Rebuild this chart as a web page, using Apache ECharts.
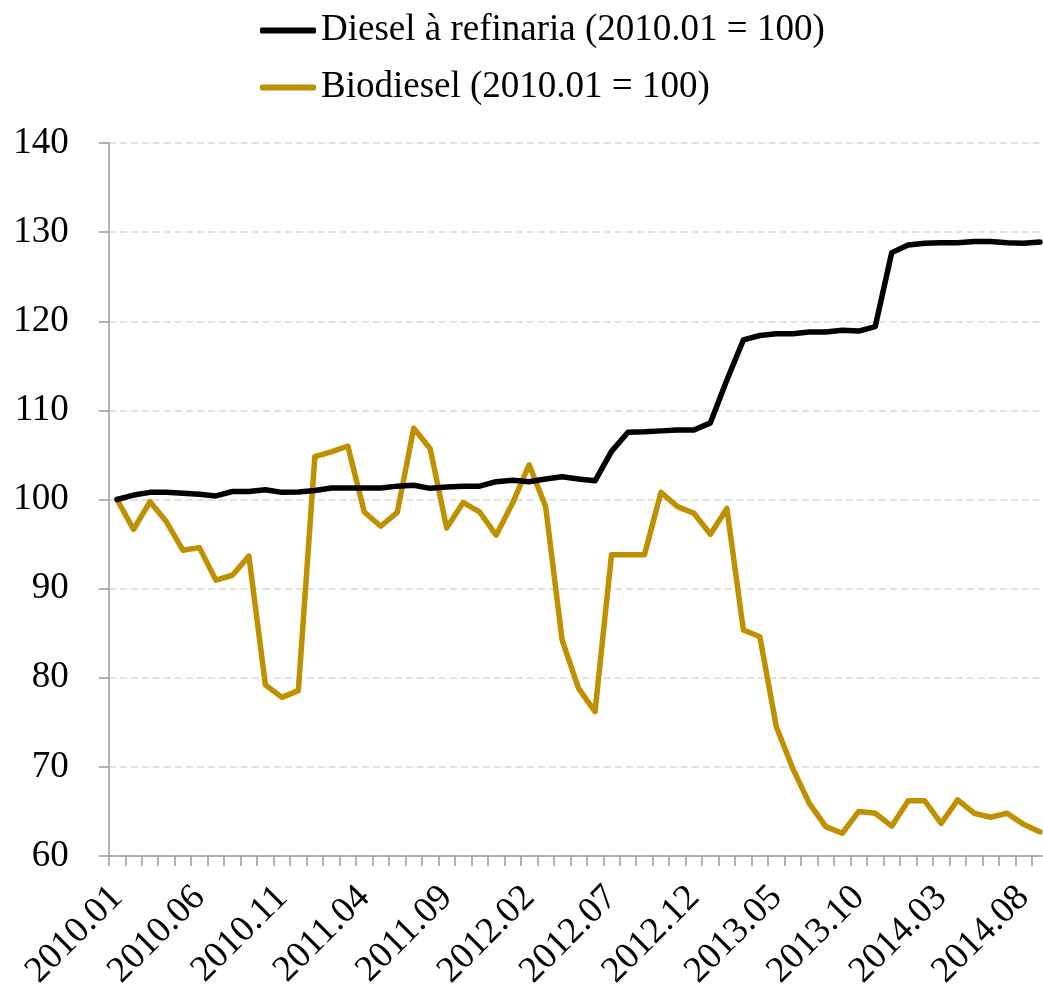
<!DOCTYPE html>
<html>
<head>
<meta charset="utf-8">
<script src="https://cdn.jsdelivr.net/npm/echarts@6/dist/echarts.min.js"></script>
<style>
  html, body { margin: 0; padding: 0; background: #fff; overflow: hidden; }
  /* canvas runs slightly past the right edge so the last month's band is cut by the page edge */
  #chart { width: 1060px; height: 989px; }
</style>
</head>
<body>
<div id="chart"></div>
<script>
// Monthly observations, 2010.01 – 2014.09
const months = [
  '2010.01','2010.02','2010.03','2010.04','2010.05','2010.06','2010.07','2010.08','2010.09','2010.10','2010.11','2010.12',
  '2011.01','2011.02','2011.03','2011.04','2011.05','2011.06','2011.07','2011.08','2011.09','2011.10','2011.11','2011.12',
  '2012.01','2012.02','2012.03','2012.04','2012.05','2012.06','2012.07','2012.08','2012.09','2012.10','2012.11','2012.12',
  '2013.01','2013.02','2013.03','2013.04','2013.05','2013.06','2013.07','2013.08','2013.09','2013.10','2013.11','2013.12',
  '2014.01','2014.02','2014.03','2014.04','2014.05','2014.06','2014.07','2014.08','2014.09'
];

// Index, 2010.01 = 100
const dieselRefinaria = [
  100.0, 100.5, 100.8, 100.8, 100.7, 100.6, 100.4, 100.9, 100.9, 101.1, 100.8, 100.85,
  101.0, 101.3, 101.3, 101.3, 101.3, 101.5, 101.6, 101.25, 101.4, 101.5, 101.5, 102.0,
  102.15, 102.0, 102.3, 102.55, 102.3, 102.1, 105.4, 107.55, 107.6, 107.7, 107.8, 107.8,
  108.6, 113.4, 117.9, 118.4, 118.6, 118.6, 118.8, 118.8, 119.0, 118.9, 119.4, 127.7,
  128.55, 128.75, 128.8, 128.8, 128.95, 128.95, 128.8, 128.75, 128.9
];

const biodiesel = [
  100.0, 96.65, 99.75, 97.5, 94.3, 94.6, 90.95, 91.5, 93.65, 79.2, 77.8, 78.55,
  104.8, 105.35, 106.0, 98.6, 97.0, 98.55, 108.0, 105.7, 96.8, 99.65, 98.6, 96.0,
  99.6, 103.9, 99.25, 84.25, 78.8, 76.2, 93.8, 93.8, 93.8, 100.8, 99.2, 98.45,
  96.1, 99.0, 85.35, 84.6, 74.5, 69.8, 65.9, 63.3, 62.55, 65.0, 64.8, 63.35,
  66.2, 66.2, 63.65, 66.3, 64.8, 64.35, 64.8, 63.55, 62.7
];

const seriesNames = ['Diesel à refinaria (2010.01 = 100)', 'Biodiesel (2010.01 = 100)'];
const yTicks = { min: 60, max: 140, step: 10 };

const serif = '"Liberation Serif", "DejaVu Serif", serif';
const axisGray = '#9a9a9a';

const chart = echarts.init(document.getElementById('chart'), null, { renderer: 'canvas' });
chart.setOption({
  animation: false,
  backgroundColor: '#ffffff',
  textStyle: { fontFamily: serif, color: '#000' },
  legend: {
    orient: 'vertical',
    left: 255,
    top: 7,
    itemWidth: 56,
    itemHeight: 6,
    itemGap: 20,
    icon: 'roundRect',
    textStyle: { fontFamily: serif, fontSize: 37, color: '#000' },
    data: seriesNames
  },
  grid: {
    left: 108.8, top: 143, width: 939.5, height: 713,
    containLabel: false,
    outerBoundsMode: 'none'
  },
  xAxis: {
    type: 'category',
    data: months,
    boundaryGap: true,
    axisLine: { show: true, lineStyle: { color: axisGray, width: 1.5 } },
    axisTick: { show: true, interval: 0, length: 10, inside: false, lineStyle: { color: axisGray, width: 1.5 } },
    axisLabel: {
      interval: 4,
      rotate: 45,
      margin: 36,
      fontFamily: serif,
      fontSize: 37,
      color: '#000'
    },
    splitLine: { show: false }
  },
  yAxis: {
    type: 'value',
    min: yTicks.min,
    max: yTicks.max,
    interval: yTicks.step,
    axisLine: { show: true, lineStyle: { color: axisGray, width: 1.5 } },
    axisTick: { show: true, length: 10, inside: false, lineStyle: { color: axisGray, width: 1.5 } },
    axisLabel: { margin: 40, fontFamily: serif, fontSize: 37, color: '#000' },
    splitLine: { show: true, lineStyle: { color: '#d9d9d9', width: 1.5, type: [7, 4] } }
  },
  series: [
    {
      name: seriesNames[0],
      type: 'line',
      data: dieselRefinaria,
      symbol: 'none',
      lineStyle: { color: '#000000', width: 5.5, cap: 'round', join: 'round' },
      itemStyle: { color: '#000000' },
      z: 3
    },
    {
      name: seriesNames[1],
      type: 'line',
      data: biodiesel,
      symbol: 'none',
      lineStyle: { color: '#bf9000', width: 5.5, cap: 'round', join: 'round' },
      itemStyle: { color: '#bf9000' },
      z: 2
    }
  ]
});
</script>
</body>
</html>
